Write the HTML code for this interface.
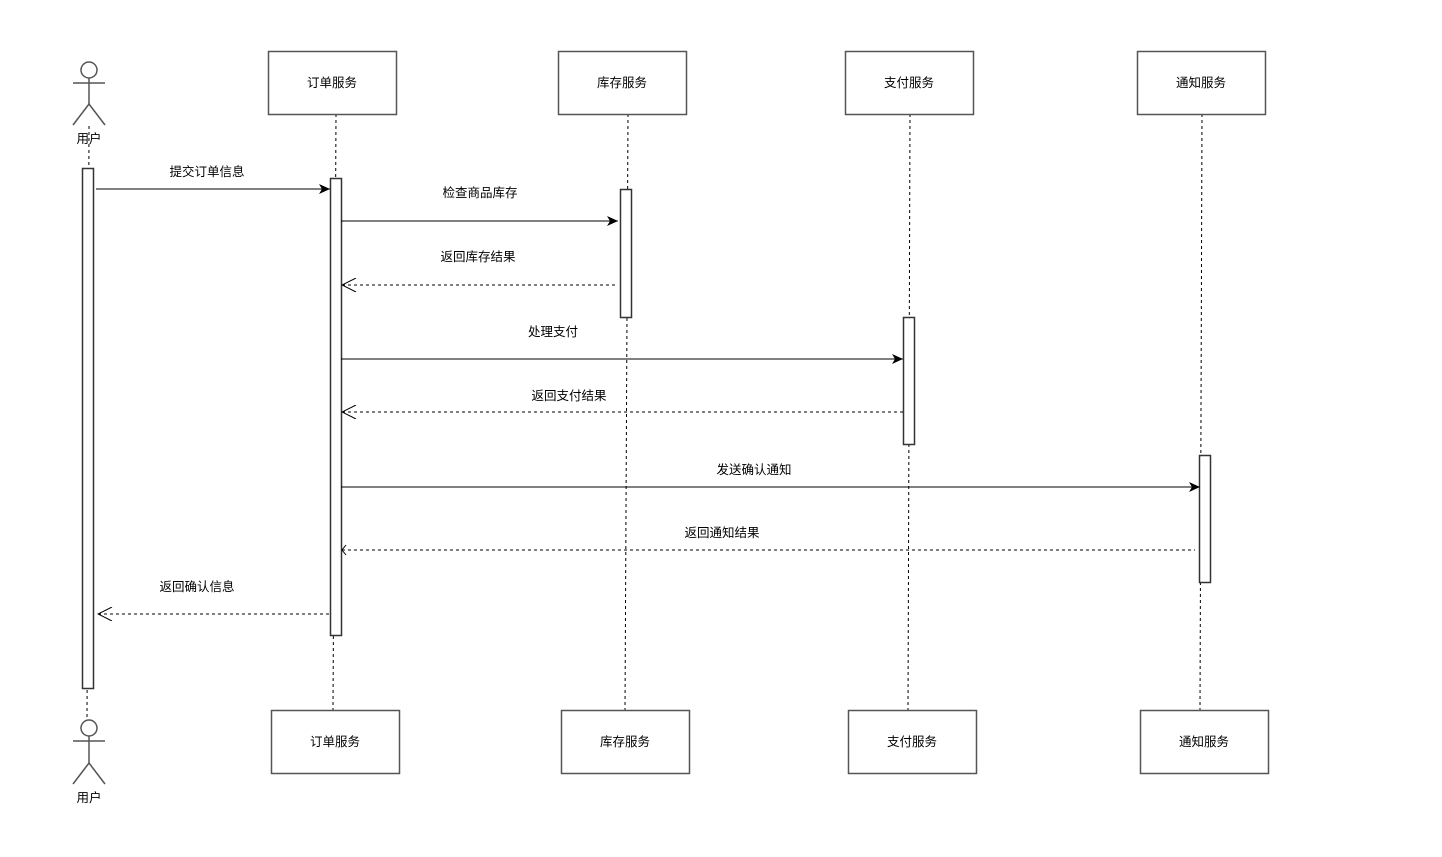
<!DOCTYPE html>
<html><head><meta charset="utf-8"><style>
html,body{margin:0;padding:0;background:#fff;}
text{font-family:"Liberation Sans","Noto Sans CJK SC",sans-serif;font-size:12.5px;fill:#000;}
</style></head><body>
<svg width="1442" height="852" xmlns="http://www.w3.org/2000/svg">
<defs>
<marker id="f" markerWidth="12" markerHeight="10" refX="11" refY="5" orient="auto" markerUnits="userSpaceOnUse"><path d="M0,0 L11,5 L0,10 L3,5 Z" fill="#000"/></marker>
<marker id="o" markerWidth="16" markerHeight="14" refX="1" refY="7" orient="auto" markerUnits="userSpaceOnUse"><path d="M15,0 L1,7 L15,14" fill="none" stroke="#000"/></marker>
</defs>
<g stroke="#000" stroke-dasharray="3,3" fill="none">
<line x1="89" y1="126" x2="87" y2="720"/>
<line x1="336" y1="114" x2="333" y2="710"/>
<line x1="628" y1="114" x2="625" y2="710"/>
<line x1="910" y1="114" x2="908" y2="710"/>
<line x1="1202" y1="114" x2="1200" y2="710"/>
</g>
<g stroke="#555" stroke-width="1.5" fill="#fff">
<rect x="268.5" y="51.5" width="128" height="63"/>
<rect x="558.5" y="51.5" width="128" height="63"/>
<rect x="845.5" y="51.5" width="128" height="63"/>
<rect x="1137.5" y="51.5" width="128" height="63"/>
<rect x="271.5" y="710.5" width="128" height="63"/>
<rect x="561.5" y="710.5" width="128" height="63"/>
<rect x="848.5" y="710.5" width="128" height="63"/>
<rect x="1140.5" y="710.5" width="128" height="63"/>
</g>
<g text-anchor="middle">
<text x="332" y="87">订单服务</text><text x="622" y="87">库存服务</text><text x="909" y="87">支付服务</text><text x="1201" y="87">通知服务</text>
<text x="335" y="746">订单服务</text><text x="625" y="746">库存服务</text><text x="912" y="746">支付服务</text><text x="1204" y="746">通知服务</text>
<text x="89" y="143">用户</text><text x="89" y="802">用户</text>
</g>
<g stroke="#555" stroke-width="1.5" fill="#fff">
<circle cx="89" cy="70" r="8"/><line x1="73" y1="83" x2="105" y2="83"/><line x1="89" y1="78" x2="89" y2="104"/><polyline points="73,125 89,104 105,125" fill="none"/>
<circle cx="89" cy="728" r="8"/><line x1="73" y1="741" x2="105" y2="741"/><line x1="89" y1="736" x2="89" y2="763"/><polyline points="73,784 89,763 105,784" fill="none"/>
</g>
<g stroke="#333" stroke-width="1.5" fill="#fff">
<rect x="82.5" y="168.5" width="11" height="520"/>
<rect x="330.5" y="178.5" width="11" height="457"/>
<rect x="620.5" y="189.5" width="11" height="128"/>
<rect x="903.5" y="317.5" width="11" height="127"/>
<rect x="1199.5" y="455.5" width="11" height="127"/>
</g>
<g stroke="#000" fill="none">
<line x1="96" y1="189" x2="330" y2="189" marker-end="url(#f)"/>
<line x1="341" y1="221" x2="618" y2="221" marker-end="url(#f)"/>
<line x1="342" y1="285" x2="618" y2="285" stroke-dasharray="3,3" marker-start="url(#o)"/>
<line x1="341" y1="359" x2="903" y2="359" marker-end="url(#f)"/>
<line x1="342" y1="412" x2="903" y2="412" stroke-dasharray="3,3" marker-start="url(#o)"/>
<line x1="341" y1="487" x2="1200" y2="487" marker-end="url(#f)"/>
<line x1="342" y1="550" x2="1195" y2="550" stroke-dasharray="3,3"/>
<path d="M346,545 L342,550 L346,555"/>
<line x1="98" y1="614" x2="330" y2="614" stroke-dasharray="3,3" marker-start="url(#o)"/>
</g>
<g text-anchor="middle">
<text x="207" y="176">提交订单信息</text>
<text x="480" y="197">检查商品库存</text>
<text x="478" y="261">返回库存结果</text>
<text x="553" y="336">处理支付</text>
<text x="569" y="400">返回支付结果</text>
<text x="754" y="474">发送确认通知</text>
<text x="722" y="537">返回通知结果</text>
<text x="197" y="591">返回确认信息</text>
</g>
</svg>
</body></html>
